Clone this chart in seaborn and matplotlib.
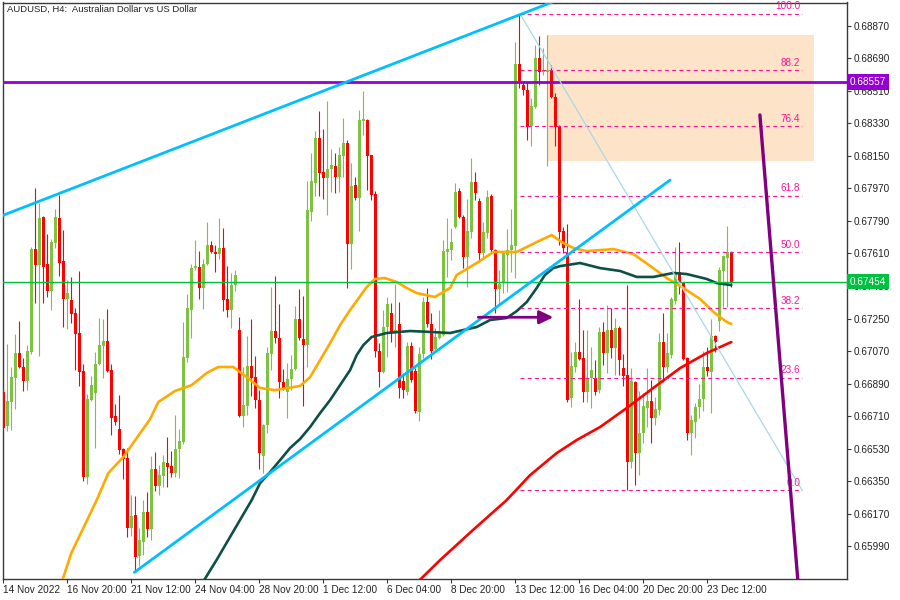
import numpy as np
import pandas as pd
import matplotlib
matplotlib.use("Agg")
import matplotlib.pyplot as plt
import matplotlib.transforms as mtransforms
from matplotlib.patches import Rectangle
from matplotlib.ticker import FormatStrFormatter
import seaborn as sns

sns.set_style("white")
plt.rcParams["font.family"] = ["Liberation Sans Narrow", "Liberation Sans", "DejaVu Sans"]

# ---------------- data ----------------
opens = [
0.66844, 0.66655, 0.66788, 0.66921, 0.67059, 0.66982, 0.66904, 0.67065, 0.67634, 0.67546,
0.67812, 0.67552, 0.67402, 0.67668, 0.67806, 0.67568, 0.67358, 0.67352, 0.67280, 0.67170,
0.66960, 0.66373, 0.66799, 0.66838, 0.66998, 0.67098, 0.67126, 0.66965, 0.66711, 0.66639,
0.66528, 0.66478, 0.66091, 0.66163, 0.65936, 0.66014, 0.66180, 0.66086, 0.66417, 0.66323,
0.66379, 0.66451, 0.66434, 0.66395, 0.66528, 0.66567, 0.67032, 0.67297, 0.67529, 0.67535,
0.67419, 0.67552, 0.67657, 0.67618, 0.67607, 0.67640, 0.67358, 0.67297, 0.67435, 0.67186,
0.66711, 0.66766, 0.66987, 0.66926, 0.66799, 0.66489, 0.66661, 0.67054, 0.67181, 0.67142,
0.66899, 0.66844, 0.66915, 0.66971, 0.67247, 0.67137, 0.67103, 0.67839, 0.68000, 0.68249,
0.68061, 0.68027, 0.68077, 0.68094, 0.68033, 0.68149, 0.68221, 0.67662, 0.67989, 0.67917,
0.68343, 0.68348, 0.68154, 0.67939, 0.67070, 0.66954, 0.67203, 0.67280, 0.67170, 0.67220,
0.66904, 0.66844, 0.67098, 0.66960, 0.66733, 0.67054, 0.67341, 0.67220, 0.67081, 0.67142,
0.67159, 0.67618, 0.67629, 0.67756, 0.67955, 0.67812, 0.67590, 0.67729, 0.68005, 0.67900,
0.67612, 0.67723, 0.67928, 0.67629, 0.67413, 0.67446, 0.67601, 0.67629, 0.67651, 0.68658,
0.68542, 0.68514, 0.68315, 0.68420, 0.68691, 0.68614, 0.68614, 0.68619, 0.68475, 0.68315,
0.67734, 0.67612, 0.66810, 0.66982, 0.67065, 0.67032, 0.66844, 0.66921, 0.66921, 0.66854,
0.67175, 0.67059, 0.67186, 0.67087, 0.67197, 0.66976, 0.66937, 0.66456, 0.66899, 0.66506,
0.66617, 0.66755, 0.66794, 0.66700, 0.66744, 0.67120, 0.66982, 0.67048, 0.67347, 0.67507,
0.67446, 0.67032, 0.66617, 0.66677, 0.66760, 0.66805, 0.66982, 0.66954, 0.67153, 0.67236,
0.67513, 0.67585, 0.67618]
highs = [
0.66866, 0.67109, 0.66982, 0.67164, 0.67236, 0.67032, 0.67103, 0.67646, 0.67972, 0.67889,
0.67815, 0.67717, 0.67690, 0.67856, 0.67933, 0.67740, 0.67463, 0.67480, 0.67308, 0.67513,
0.66998, 0.66832, 0.66932, 0.67065, 0.67253, 0.67247, 0.67303, 0.66998, 0.66777, 0.66827,
0.66534, 0.66534, 0.66274, 0.66268, 0.66091, 0.66246, 0.66290, 0.66489, 0.66512, 0.66440,
0.66495, 0.66595, 0.66517, 0.66716, 0.66639, 0.67231, 0.67386, 0.67552, 0.67684, 0.67623,
0.67579, 0.67784, 0.67679, 0.67657, 0.67806, 0.67751, 0.67540, 0.67502, 0.67518, 0.67258,
0.66982, 0.67153, 0.67247, 0.67043, 0.66854, 0.66666, 0.67092, 0.67424, 0.67485, 0.67330,
0.66971, 0.67004, 0.67048, 0.67319, 0.67413, 0.67374, 0.68011, 0.68166, 0.68287, 0.68398,
0.68298, 0.68453, 0.68188, 0.68166, 0.68199, 0.68359, 0.68238, 0.68110, 0.68033, 0.68404,
0.68509, 0.68352, 0.68157, 0.67955, 0.67114, 0.67297, 0.67369, 0.67336, 0.67441, 0.67341,
0.66949, 0.67120, 0.67120, 0.66976, 0.67092, 0.67369, 0.67419, 0.67280, 0.67197, 0.67297,
0.67684, 0.67806, 0.67751, 0.68000, 0.67972, 0.67823, 0.67911, 0.68138, 0.68061, 0.67917,
0.67784, 0.67961, 0.67939, 0.67633, 0.67518, 0.67618, 0.67745, 0.67856, 0.68780, 0.68935,
0.68558, 0.68558, 0.68470, 0.68763, 0.68813, 0.68747, 0.68818, 0.68652, 0.68498, 0.68320,
0.67756, 0.67773, 0.67065, 0.67120, 0.67358, 0.67186, 0.67186, 0.67092, 0.67020, 0.67203,
0.67231, 0.67325, 0.67308, 0.67253, 0.67209, 0.67054, 0.67435, 0.66976, 0.66905, 0.66849,
0.66838, 0.66976, 0.66910, 0.66816, 0.67170, 0.67280, 0.67170, 0.67369, 0.67646, 0.67673,
0.67450, 0.67037, 0.66716, 0.66783, 0.66888, 0.67070, 0.67092, 0.67247, 0.67159, 0.67535,
0.67601, 0.67762, 0.67623]
lows = [
0.66633, 0.66628, 0.66633, 0.66749, 0.66976, 0.66849, 0.66854, 0.67054, 0.67336, 0.67043,
0.67336, 0.67369, 0.67297, 0.67640, 0.67485, 0.67203, 0.67192, 0.67225, 0.66965, 0.66877,
0.66351, 0.66334, 0.66794, 0.66534, 0.66993, 0.66921, 0.66954, 0.66606, 0.66661, 0.66500,
0.66362, 0.66041, 0.66047, 0.65848, 0.65881, 0.65942, 0.66041, 0.66025, 0.66296, 0.66274,
0.66318, 0.66318, 0.66373, 0.66373, 0.66368, 0.66556, 0.67009, 0.67142, 0.67518, 0.67358,
0.67303, 0.67546, 0.67612, 0.67507, 0.67579, 0.67291, 0.67258, 0.67197, 0.67402, 0.66705,
0.66650, 0.66716, 0.66821, 0.66755, 0.66417, 0.66395, 0.66617, 0.66965, 0.67114, 0.66810,
0.66854, 0.66700, 0.66854, 0.66965, 0.67131, 0.66766, 0.66982, 0.67789, 0.67928, 0.67928,
0.67911, 0.67823, 0.67950, 0.67944, 0.67950, 0.68033, 0.67419, 0.67524, 0.67906, 0.67734,
0.68265, 0.67961, 0.67906, 0.67037, 0.66871, 0.66950, 0.67037, 0.67120, 0.67092, 0.66810,
0.66810, 0.66827, 0.66899, 0.66730, 0.66683, 0.67032, 0.67203, 0.67026, 0.67076, 0.67138,
0.67153, 0.67480, 0.67574, 0.67751, 0.67806, 0.67529, 0.67424, 0.67695, 0.67906, 0.67563,
0.67585, 0.67695, 0.67618, 0.67280, 0.67325, 0.67391, 0.67397, 0.67507, 0.67474, 0.68525,
0.68486, 0.68238, 0.68204, 0.68415, 0.68542, 0.68597, 0.68094, 0.68470, 0.68204, 0.67657,
0.67612, 0.66788, 0.66760, 0.66954, 0.67020, 0.66788, 0.66788, 0.66755, 0.66827, 0.66840,
0.66993, 0.66949, 0.67032, 0.66937, 0.66937, 0.66877, 0.66300, 0.66423, 0.66329, 0.66384,
0.66561, 0.66650, 0.66561, 0.66661, 0.66716, 0.66899, 0.66954, 0.67032, 0.67330, 0.67386,
0.67020, 0.66578, 0.66495, 0.66589, 0.66700, 0.66738, 0.66932, 0.66727, 0.67065, 0.67181,
0.67314, 0.67314, 0.67424]
closes = [
0.66644, 0.66794, 0.66926, 0.67059, 0.66982, 0.66904, 0.67070, 0.67634, 0.67546, 0.67806,
0.67535, 0.67402, 0.67673, 0.67812, 0.67557, 0.67358, 0.67391, 0.67275, 0.67164, 0.66954,
0.66373, 0.66805, 0.66882, 0.66998, 0.67103, 0.67126, 0.66960, 0.66700, 0.66677, 0.66523,
0.66473, 0.66091, 0.66157, 0.65931, 0.66025, 0.66180, 0.66086, 0.66417, 0.66323, 0.66384,
0.66456, 0.66429, 0.66395, 0.66528, 0.66572, 0.67037, 0.67308, 0.67529, 0.67540, 0.67419,
0.67552, 0.67657, 0.67618, 0.67607, 0.67640, 0.67352, 0.67297, 0.67435, 0.67491, 0.66711,
0.66771, 0.66987, 0.66921, 0.66799, 0.66506, 0.66661, 0.67059, 0.67181, 0.67142, 0.66899,
0.66866, 0.66915, 0.66971, 0.67247, 0.67142, 0.67103, 0.67850, 0.68011, 0.68249, 0.68055,
0.68027, 0.68077, 0.68099, 0.68033, 0.68154, 0.68221, 0.67662, 0.67983, 0.67917, 0.68348,
0.68354, 0.68149, 0.67933, 0.67070, 0.66954, 0.67203, 0.67330, 0.67170, 0.67186, 0.66866,
0.66854, 0.67098, 0.66910, 0.66738, 0.67054, 0.67341, 0.67220, 0.67070, 0.67148, 0.67170,
0.67623, 0.67634, 0.67673, 0.67950, 0.67812, 0.67590, 0.67734, 0.68005, 0.67944, 0.67612,
0.67729, 0.67922, 0.67629, 0.67413, 0.67441, 0.67612, 0.67629, 0.67657, 0.68658, 0.68564,
0.68514, 0.68309, 0.68426, 0.68691, 0.68614, 0.68619, 0.68625, 0.68475, 0.68309, 0.67729,
0.67640, 0.66799, 0.66987, 0.67065, 0.67026, 0.66844, 0.66921, 0.66965, 0.66844, 0.67175,
0.67059, 0.67186, 0.67087, 0.67197, 0.67020, 0.66932, 0.66456, 0.66904, 0.66506, 0.66617,
0.66766, 0.66794, 0.66700, 0.66749, 0.67120, 0.66982, 0.67059, 0.67358, 0.67507, 0.67446,
0.67026, 0.66617, 0.66689, 0.66760, 0.66805, 0.66982, 0.66960, 0.67153, 0.67120, 0.67518,
0.67596, 0.67618, 0.67454]

# moving averages: (bar position, price)
ma_orange_pos = [14, 17, 20, 23.35, 26.25, 30, 33.35, 36.7, 38.75, 42.9, 47.1, 50.85, 53.75,
                 57.5, 60.85, 64.2, 67.9, 74.2, 76.7, 79.2, 81.7, 84.2, 86.7, 90.85, 92.9, 95.4,
                 98.35, 100.85, 103.35, 107.9, 111.7, 113.35, 118.35, 122.5, 128.35, 133.35,
                 137.1, 139.6, 142.5, 145.85, 152.5, 157.5, 162.1, 165.85, 170.0, 174.2, 177.9,
                 180.85, 182]
ma_orange_val = [0.65750, 0.65953, 0.66091, 0.66246, 0.66395, 0.66484, 0.66589, 0.66694, 0.66788,
                 0.66849, 0.66882, 0.66949, 0.66982, 0.66982, 0.66926, 0.66866, 0.66854, 0.66877,
                 0.66926, 0.67020, 0.67114, 0.67214, 0.67297, 0.67424, 0.67469, 0.67474, 0.67452,
                 0.67419, 0.67391, 0.67369, 0.67419, 0.67491, 0.67557, 0.67618, 0.67618, 0.67673,
                 0.67712, 0.67673, 0.67640, 0.67623, 0.67634, 0.67607, 0.67535, 0.67474, 0.67419,
                 0.67358, 0.67280, 0.67231, 0.67220]
ma_dkgreen_pos = [49, 53.3, 62.1, 64.2, 66.7, 69.2, 71.7, 74.2, 76.7, 79.2, 81.7, 84.2, 86.7,
                  88.35, 90, 92.1, 95.85, 101.7, 107.5, 111.7, 118.35, 121.7, 125.85, 128.35,
                  130.85, 133.35, 135.4, 137.5, 139.2, 144.2, 149.2, 154.2, 158.35, 162.5, 167.5,
                  170.85, 175.85, 178.35, 182]
ma_dkgreen_val = [0.65760, 0.65914, 0.66246, 0.66340, 0.66401, 0.66467, 0.66534, 0.66584, 0.66650,
                  0.66727, 0.66799, 0.66882, 0.66965, 0.67048, 0.67103, 0.67148, 0.67170, 0.67181,
                  0.67175, 0.67170, 0.67203, 0.67242, 0.67253, 0.67291, 0.67341, 0.67419, 0.67491,
                  0.67529, 0.67540, 0.67557, 0.67529, 0.67513, 0.67480, 0.67480, 0.67502, 0.67496,
                  0.67469, 0.67446, 0.67435]
ma_red_pos = [103, 109.2, 117.4, 125.85, 131.7, 138.35, 143.35, 149.2, 155.85, 162.5, 169.2,
              175.85, 182]
ma_red_val = [0.65780, 0.65914, 0.66080, 0.66246, 0.66384, 0.66506, 0.66578, 0.66650, 0.66755,
              0.66866, 0.66976, 0.67059, 0.67120]

# drawn objects
channel_top = ([-1, 140], [0.67813, 0.69024])
channel_bottom = ([32.75, 166.7], [0.65846, 0.68016])
steep_line = ([189.15, 199.0], [0.68376, 0.65702])
fib_anchor = ([129.2, 199.7], [0.68935, 0.66300])
fib_levels = [0.0, 23.6, 38.2, 50.0, 61.8, 76.4, 88.2, 100.0]
fib_low, fib_high = 0.66300, 0.68935
zone = (135.85, 202.7, 0.68123, 0.68818)
arrow = (118.75, 137.5, 0.67257)
resistance = 0.68557
last_price = 0.67454

date_pos = [0, 16, 32, 48, 64, 80, 96, 112, 128, 144, 160, 176]
date_labels = ["14 Nov 2022", "16 Nov 20:00", "21 Nov 12:00", "24 Nov 04:00", "28 Nov 20:00",
               "1 Dec 12:00", "6 Dec 04:00", "8 Dec 20:00", "13 Dec 12:00", "16 Dec 04:00",
               "20 Dec 20:00", "23 Dec 12:00"]
price_ticks = [0.68870, 0.68690, 0.68510, 0.68330, 0.68150, 0.67970, 0.67790, 0.67610, 0.67430,
               0.67250, 0.67070, 0.66890, 0.66710, 0.66530, 0.66350, 0.66170, 0.65990]

BULL = "#7DC242"
BEAR = "#FF0000"
FS = 7.2

# ---------------- figure ----------------
fig = plt.figure(figsize=(9, 6), dpi=100)
ax = fig.add_axes([2.7 / 900, 21.3 / 600, 844.6 / 900, 576.2 / 600])
ax.set_xlim(-0.15, 211.0)
ax.set_ylim(0.65811, 0.68998)

# zone
ax.add_patch(Rectangle((zone[0], zone[2]), zone[1] - zone[0], zone[3] - zone[2],
                       facecolor="#FDE3C8", edgecolor="none", zorder=0.5))

# candles
o = np.array(opens); h = np.array(highs); l = np.array(lows); c = np.array(closes)
idx = np.arange(len(o))
cols = np.where(c >= o, BULL, BEAR)
ax.vlines(idx, l, h, colors=cols, lw=0.8, zorder=3)
body = c - o
body = np.where(np.abs(body) < 0.00003, np.where(body >= 0, 0.00003, -0.00003), body)
ax.bar(idx, body, bottom=o, width=0.74, color=cols, linewidth=0, zorder=3)

# moving averages (seaborn)
ma_df = pd.concat([
    pd.DataFrame({"pos": ma_orange_pos, "val": ma_orange_val, "ma": "orange"}),
    pd.DataFrame({"pos": ma_dkgreen_pos, "val": ma_dkgreen_val, "ma": "dkgreen"}),
    pd.DataFrame({"pos": ma_red_pos, "val": ma_red_val, "ma": "red"}),
])
sns.lineplot(data=ma_df, x="pos", y="val", hue="ma", sort=False, estimator=None,
             palette={"orange": "#FFAA00", "dkgreen": "#0D5045", "red": "#FF0000"},
             linewidth=1.9, legend=False, ax=ax, zorder=4)

# horizontal lines
ax.axhline(last_price, color="#00C040", lw=1.0, zorder=5)
ax.axhline(resistance, color="#9400D3", lw=2.0, zorder=5)

# fibonacci
for lv in fib_levels:
    p = fib_low + (fib_high - fib_low) * lv / 100.0
    ax.hlines(p, fib_anchor[0][0], fib_anchor[0][1], colors="#FF1493", lw=0.8,
              linestyles=(0, (3.5, 3)), zorder=5)
    ax.annotate(f"{lv:.1f}", xy=(199.3, p), xytext=(0, 1.8), textcoords="offset points",
                ha="right", va="bottom", fontsize=FS, color="#FF1493", zorder=6)
sns.lineplot(x=fib_anchor[0], y=fib_anchor[1], color="#A8D8EA", lw=0.9, ax=ax, zorder=5)

# trend lines
sns.lineplot(x=channel_top[0], y=channel_top[1], color="#00BFFF", lw=2.0, ax=ax, zorder=6)
sns.lineplot(x=channel_bottom[0], y=channel_bottom[1], color="#00BFFF", lw=2.0, ax=ax, zorder=6)
sns.lineplot(x=steep_line[0], y=steep_line[1], color="#800080", lw=2.4, ax=ax, zorder=6)

# arrow
ax.annotate("", xy=(arrow[1], arrow[2]), xytext=(arrow[0], arrow[2]),
            arrowprops=dict(arrowstyle="-|>,head_length=0.56,head_width=0.27", color="#800080",
                            lw=2.0, mutation_scale=15, shrinkA=0, shrinkB=0), zorder=7)

# title
ax.text(0.0047, 0.9879, "AUDUSD, H4:  Australian Dollar vs US Dollar", transform=ax.transAxes,
        ha="left", va="center", fontsize=FS - 0.4, color="#222222", zorder=8)

# axes styling
for s in ax.spines.values():
    s.set_color("#3A3A3A"); s.set_linewidth(1.0)
ax.yaxis.tick_right()
ax.set_yticks(price_ticks)
ax.yaxis.set_major_formatter(FormatStrFormatter("%.5f"))
ax.set_xticks(date_pos)
ax.set_xticklabels(date_labels)
for lab in ax.get_xticklabels():
    lab.set_ha("left")
ax.tick_params(axis="both", which="major", direction="out", length=3, width=0.8,
               color="#3A3A3A", labelsize=FS, labelcolor="#222222", pad=1.2)
ax.tick_params(axis="y", left=False, right=True)
ax.tick_params(axis="x", bottom=True)
ax.set_xlabel(""); ax.set_ylabel("")

# price labels on the axis
tr = mtransforms.blended_transform_factory(ax.transAxes, ax.transData)
ax.text(1.0032, resistance, f"{resistance:.5f}", transform=tr, ha="left", va="center",
        fontsize=FS, color="white", clip_on=False, zorder=10,
        bbox=dict(boxstyle="square,pad=0.28", fc="#9400D3", ec="none"))
ax.text(1.0032, last_price, f"{last_price:.5f}", transform=tr, ha="left", va="center",
        fontsize=FS, color="white", clip_on=False, zorder=10,
        bbox=dict(boxstyle="square,pad=0.28", fc="#00C040", ec="none"))

fig.savefig("out.png", dpi=100, facecolor="white")
